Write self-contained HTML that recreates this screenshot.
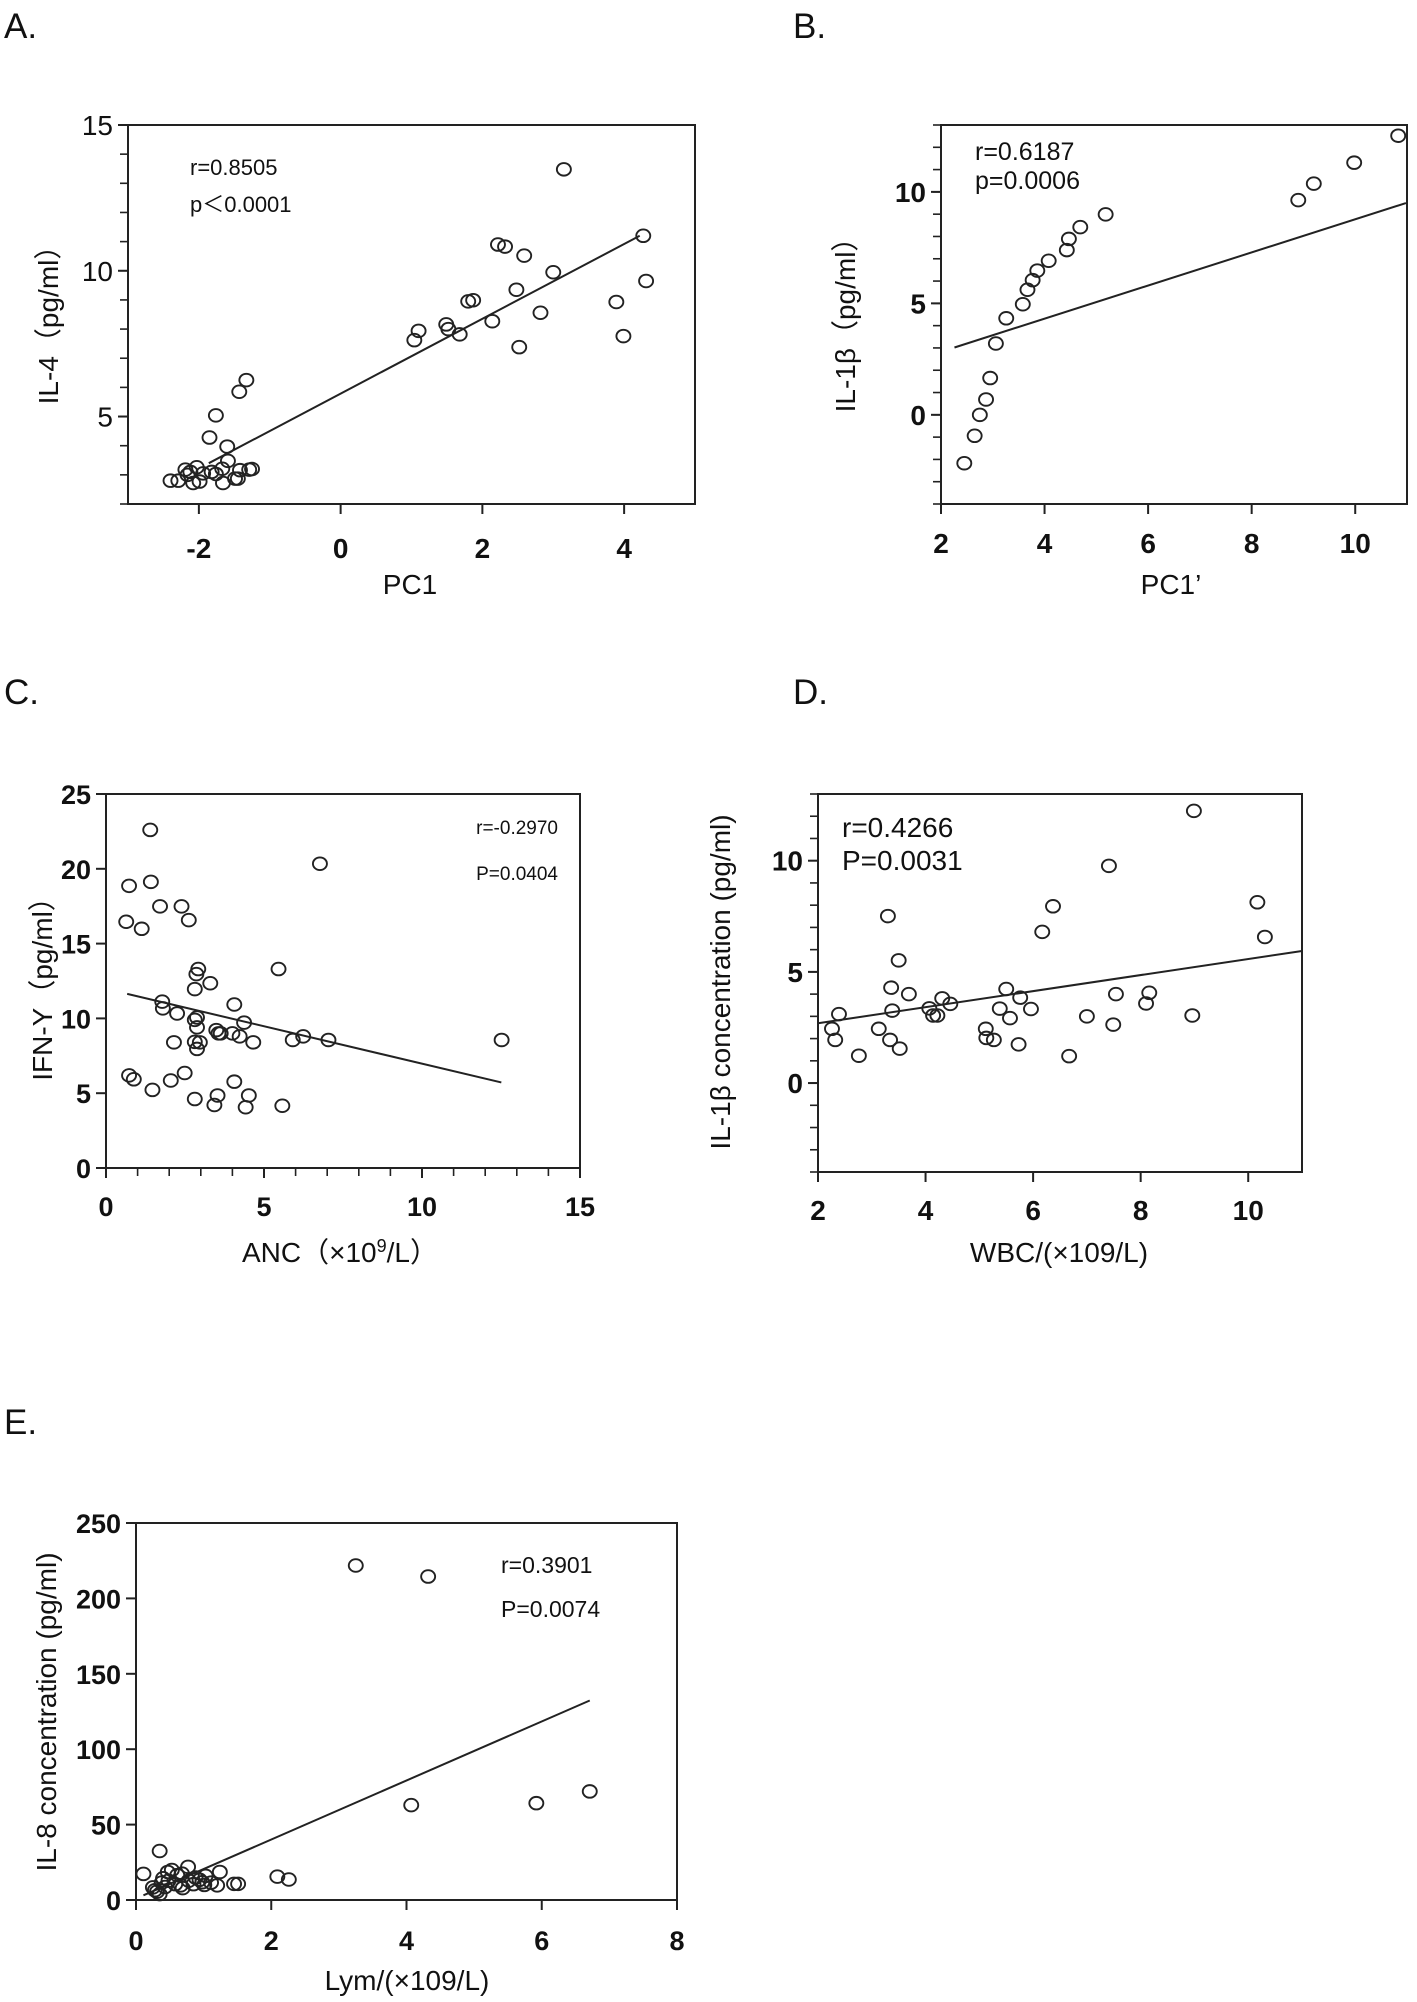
<!DOCTYPE html>
<html><head><meta charset="utf-8">
<style>
html,body{margin:0;padding:0;background:#fff;}
svg{display:block;}
text{font-family:"Liberation Sans","Noto Sans CJK SC",sans-serif;fill:#111;}
</style></head>
<body>
<svg id="fig" width="1417" height="2002" viewBox="0 0 1417 2002" xmlns="http://www.w3.org/2000/svg">
<text x="4" y="38" font-size="35">A.</text>
<text x="793" y="38" font-size="35">B.</text>
<text x="4" y="704" font-size="35">C.</text>
<text x="793" y="704" font-size="35">D.</text>
<text x="4" y="1434" font-size="35">E.</text>
</svg>
<script>
// Panel A data
const aX = [3.15,4.27,4.31,3.89,3.99,2.22,2.32,2.59,3.0,2.48,2.82,2.52,2.14,1.80,1.87,1.49,1.52,1.68,1.10,1.04,-1.33,-1.43,-1.76,-1.85,-1.60,-1.59,-1.67,-2.40,-2.29,-2.19,-2.16,-2.08,-2.03,-1.99,-1.94,-1.82,-1.76,-1.66,-1.49,-1.45,-1.42,-1.29,-1.25,-2.12];
const aY = [13.48,11.2,9.65,8.93,7.76,10.9,10.83,10.52,9.95,9.35,8.56,7.38,8.27,8.95,8.99,8.16,8.0,7.82,7.94,7.62,6.25,5.85,5.04,4.28,3.97,3.48,3.21,2.8,2.8,3.18,3.0,2.72,3.26,2.77,3.05,3.1,3.03,2.72,2.87,2.87,3.16,3.18,3.2,3.1];
const aFitX = [-1.86,4.22];
const aFitY = [3.4,11.2];
const aXTicks = [-2,0,2,4];
const aYTicks = [5,10,15];
// Panel B data
const bX = [10.83,9.98,9.2,8.9,5.18,4.69,4.47,4.43,4.08,3.86,3.77,3.67,3.58,3.26,3.06,2.95,2.87,2.75,2.65,2.45];
const bY = [12.52,11.31,10.37,9.63,8.99,8.42,7.89,7.39,6.91,6.47,6.04,5.61,4.96,4.33,3.2,1.65,0.69,0,-0.94,-2.17];
const bFitX = [2.26,10.98];
const bFitY = [3.02,9.5];
const bXTicks = [2,4,6,8,10];
const bYTicks = [0,5,10];
// Panel C data
const cX = [1.40,6.77,0.73,1.42,1.71,2.39,2.62,0.64,1.13,5.46,2.92,2.86,3.30,2.81,4.06,1.78,1.80,2.25,4.37,2.81,2.88,2.88,3.49,3.56,3.63,4.0,4.23,6.24,5.91,7.04,12.52,2.15,2.81,2.97,4.66,2.88,0.73,0.88,2.49,2.05,4.06,1.47,2.81,3.53,4.52,3.43,4.42,5.58];
const cY = [22.6,20.34,18.86,19.13,17.49,17.49,16.57,16.46,15.99,13.3,13.3,12.96,12.35,11.96,10.93,11.12,10.67,10.33,9.72,9.9,10.06,9.4,9.22,9.0,9.0,9.0,8.8,8.8,8.56,8.56,8.56,8.4,8.43,8.4,8.4,7.96,6.19,5.93,6.35,5.85,5.77,5.22,4.61,4.85,4.85,4.21,4.06,4.16];
const cFitX = [0.67,12.51];
const cFitY = [11.64,5.72];
const cXTicks = [0,5,10,15];
const cYTicks = [0,5,10,15,20,25];
// Panel D data
const dX = [8.99,7.41,10.17,10.31,6.37,6.17,3.30,3.50,3.36,3.69,5.50,5.76,7.54,8.16,8.10,4.31,4.46,4.07,4.14,4.22,3.38,2.39,5.38,5.96,5.57,7.0,8.96,7.49,2.26,3.13,5.12,2.32,3.34,5.13,5.27,3.52,5.73,2.76,6.67];
const dY = [12.24,9.77,8.13,6.57,7.95,6.8,7.51,5.52,4.29,4.0,4.23,3.84,4.0,4.06,3.58,3.81,3.56,3.36,3.04,3.04,3.26,3.1,3.35,3.33,2.92,3.0,3.04,2.63,2.44,2.44,2.44,1.94,1.94,2.03,1.94,1.55,1.74,1.23,1.21];
const dFitX = [2,11];
const dFitY = [2.69,5.94];
const dXTicks = [2,4,6,8,10];
const dYTicks = [0,5,10];
// Panel E data
const eX = [3.25,4.32,4.07,5.92,6.71,0.35,0.11,1.24,2.09,2.26,1.45,1.51,1.2,0.77,0.53,0.47,0.68,0.61,1.03,0.88,0.4,0.48,0.78,0.94,0.98,0.38,0.58,0.66,0.85,1.01,0.25,0.43,0.69,0.31,0.35,0.28,1.11];
const eY = [221.8,214.5,62.9,64.2,72.0,32.5,17.3,18.6,15.5,13.6,10.7,10.7,9.7,22,19.9,18.6,17.5,16.5,16,14.9,14.4,12.8,12.8,13.4,11.8,11.5,10.5,9.7,10.5,10,8.4,8.6,7.9,5.5,3.9,6.5,11.5];
const eFitX = [0.11,6.71];
const eFitY = [3.1,132.3];
const eXTicks = [0,2,4,6,8];
const eYTicks = [0,50,100,150,200,250];

const NS = "http://www.w3.org/2000/svg";
const fig = document.getElementById('fig');
function mk(tag, attrs, parent){
  const e = document.createElementNS(NS, tag);
  for (const k in attrs) e.setAttribute(k, attrs[k]);
  (parent||fig).appendChild(e);
  return e;
}
function panel(p){
  const g = mk('g', {});
  
  
  const sx = v => p.L + (v - p.x0) / (p.x1 - p.x0) * (p.R - p.L);
  const sy = v => p.B - (v - p.y0) / (p.y1 - p.y0) * (p.B - p.T);
  const frame = mk('rect', {x:p.L, y:p.T, width:p.R-p.L, height:p.B-p.T, fill:'none', stroke:'#222', 'stroke-width':2}, g);
  
  
  if (p.yMinor){
    for (let v = p.y0; v <= p.y1 + 1e-9; v += p.yMinor){
      const t = mk('line', {x1:p.L-8, x2:p.L, y1:sy(v), y2:sy(v), stroke:'#222','stroke-width':1.6}, g);
      
      
    }
  }
  if (p.xMinor){
    for (let v = p.x0; v <= p.x1 + 1e-9; v += p.xMinor){
      const t = mk('line', {x1:sx(v), x2:sx(v), y1:p.B, y2:p.B+8, stroke:'#222','stroke-width':1.6}, g);
      
      
    }
  }
  p.yTicks.forEach(v => {
    const t = mk('line', {x1:p.L-10, x2:p.L, y1:sy(v), y2:sy(v), stroke:'#222','stroke-width':2}, g);
    
    
    const lb = mk('text', {x:p.L-15, y:sy(v)+10, 'text-anchor':'end', 'font-size':p.tfs, 'font-weight':p.yBold?'bold':'normal'}, g);
    lb.textContent = v;
    
    
  });
  p.xTicks.forEach(v => {
    const t = mk('line', {x1:sx(v), x2:sx(v), y1:p.B, y2:p.B+10, stroke:'#222','stroke-width':2}, g);
    
    
    const lb = mk('text', {x:sx(v), y:p.xly, 'text-anchor':'middle', 'font-size':p.tfs, 'font-weight':'bold'}, g);
    lb.textContent = v;
    
    
  });
  const fit = mk('line', {x1:sx(p.fx[0]), y1:sy(p.fy[0]), x2:sx(p.fx[1]), y2:sy(p.fy[1]), stroke:'#222','stroke-width':2}, g);
  
  
  p.xs.forEach((v,i) => {
    const c = mk('ellipse', {cx:sx(v), cy:sy(p.ys[i]), rx:7, ry:6.3, fill:'none', stroke:'#222','stroke-width':1.9}, g);
    
    
  });
  const xt = mk('text', {x:p.xtx, y:p.xty, 'text-anchor':'middle', 'font-size':p.atfs||28}, g);
  xt.innerHTML = p.xtitle;
  
  
  const yt = mk('text', {x:0, y:0, 'text-anchor':'middle', 'font-size':p.ytfs||28, transform:`translate(${p.ytx},${p.yty}) rotate(-90)`}, g);
  yt.textContent = p.ytitle;
  
  
  p.ann.forEach(a => {
    const t = mk('text', {x:a[1], y:a[2], 'font-size':p.afs, 'text-anchor':p.aAnchor||'start'}, g);
    t.textContent = a[0];
    
    
  });
}
panel({name:'panel-a-il4-vs-pc1', L:128,R:695,T:125,B:504, x0:-3,x1:5,y0:2,y1:15, yMinor:1, xTicks:aXTicks, yTicks:aYTicks, yBold:false, tfs:28, xly:558,
  xs:aX, ys:aY, fx:aFitX, fy:aFitY, xtitle:'PC1', xtx:410, xty:594, ytitle:'IL-4（pg/ml）', ytx:58, yty:318,
  ann:[['r=0.8505',190,175],['p＜0.0001',190,212]], afs:22});
panel({name:'panel-b-il1b-vs-pc1prime', L:941,R:1407,T:125,B:504, x0:2,x1:11,y0:-4,y1:13, yMinor:1, xTicks:bXTicks, yTicks:bYTicks, yBold:true, tfs:28, xly:553,
  xs:bX, ys:bY, fx:bFitX, fy:bFitY, xtitle:'PC1’', xtx:1171, xty:594, ytitle:'IL-1β（pg/ml）', ytx:855, yty:318,
  ann:[['r=0.6187',975,160],['p=0.0006',975,189]], afs:25});
panel({name:'panel-c-ifng-vs-anc', L:106,R:580,T:794,B:1168, x0:0,x1:15,y0:0,y1:25, xMinor:1, xTicks:cXTicks, yTicks:cYTicks, yBold:true, tfs:27, xly:1216,
  xs:cX, ys:cY, fx:cFitX, fy:cFitY, xtitle:'ANC（×10<tspan dy="-10" font-size="18">9</tspan><tspan dy="10">/L）</tspan>', xtx:340, xty:1262, ytitle:'IFN-Y（pg/ml）', ytx:52, yty:982,
  ann:[['r=-0.2970',558,834],['P=0.0404',558,880]], afs:19, aAnchor:'end'});
panel({name:'panel-d-il1b-vs-wbc', L:818,R:1302,T:794,B:1172, x0:2,x1:11,y0:-4,y1:13, yMinor:1, xTicks:dXTicks, yTicks:dYTicks, yBold:true, tfs:28, xly:1220,
  xs:dX, ys:dY, fx:dFitX, fy:dFitY, xtitle:'WBC/(×109/L)', xtx:1059, xty:1262, ytitle:'IL-1β concentration (pg/ml)', ytx:730, yty:982,
  ann:[['r=0.4266',842,837],['P=0.0031',842,870]], afs:28});
panel({name:'panel-e-il8-vs-lym', L:136,R:677,T:1523,B:1900, x0:0,x1:8,y0:0,y1:250, xTicks:eXTicks, yTicks:eYTicks, yBold:true, tfs:27, xly:1950,
  xs:eX, ys:eY, fx:eFitX, fy:eFitY, xtitle:'Lym/(×109/L)', xtx:407, xty:1990, ytitle:'IL-8 concentration (pg/ml)', ytx:56, yty:1712,
  ann:[['r=0.3901',501,1573],['P=0.0074',501,1617]], afs:23});
</script>
</body></html>
